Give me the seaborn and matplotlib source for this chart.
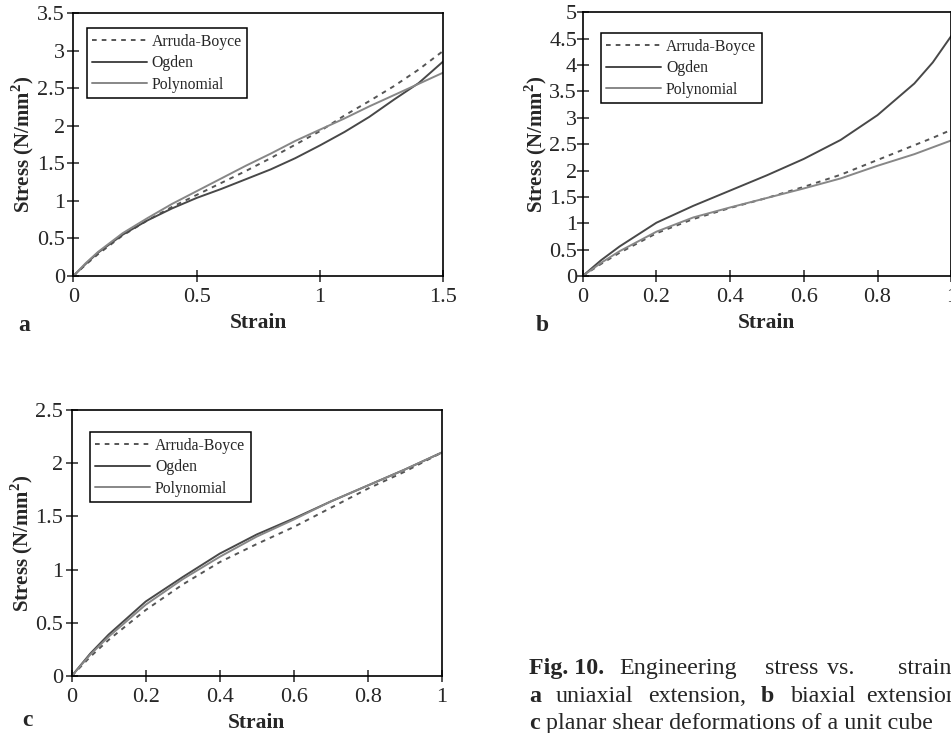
import numpy as np
import pandas as pd
import matplotlib
matplotlib.use("Agg")
import matplotlib.pyplot as plt
import seaborn as sns
from matplotlib.ticker import FuncFormatter, MultipleLocator

# ---------------- data ----------------
models = ["Arruda-Boyce", "Ogden", "Polynomial"]

# a: uniaxial extension
strain_a = [0, 0.05, 0.1, 0.2, 0.3, 0.4, 0.5, 0.6, 0.7, 0.8, 0.9, 1.0, 1.1, 1.2, 1.3, 1.4, 1.5]
ab_a = [0, 0.15, 0.29, 0.54, 0.74, 0.92, 1.08, 1.24, 1.40, 1.57, 1.75, 1.93, 2.14, 2.33, 2.53, 2.75, 3.00]
og_a = [0, 0.16, 0.31, 0.55, 0.74, 0.90, 1.04, 1.16, 1.29, 1.42, 1.57, 1.74, 1.92, 2.12, 2.35, 2.57, 2.86]
po_a = [0, 0.17, 0.32, 0.57, 0.77, 0.96, 1.13, 1.30, 1.47, 1.63, 1.80, 1.95, 2.10, 2.26, 2.41, 2.56, 2.71]

# b: biaxial extension
strain_b = [0, 0.05, 0.1, 0.2, 0.3, 0.4, 0.5, 0.6, 0.7, 0.8, 0.9, 0.95, 1.0]
ab_b = [0, 0.23, 0.44, 0.81, 1.08, 1.29, 1.48, 1.69, 1.92, 2.20, 2.48, 2.62, 2.77]
og_b = [0, 0.30, 0.56, 1.01, 1.33, 1.62, 1.91, 2.22, 2.58, 3.05, 3.65, 4.05, 4.55]
po_b = [0, 0.25, 0.47, 0.84, 1.11, 1.30, 1.48, 1.66, 1.85, 2.09, 2.31, 2.44, 2.57]

# c: planar shear
strain_c = [0, 0.05, 0.1, 0.2, 0.3, 0.4, 0.5, 0.6, 0.7, 0.8, 0.9, 1.0]
ab_c = [0, 0.18, 0.34, 0.62, 0.86, 1.07, 1.24, 1.40, 1.58, 1.76, 1.92, 2.10]
og_c = [0, 0.21, 0.39, 0.70, 0.93, 1.15, 1.33, 1.48, 1.64, 1.79, 1.94, 2.10]
po_c = [0, 0.20, 0.37, 0.67, 0.91, 1.12, 1.31, 1.47, 1.64, 1.79, 1.94, 2.10]

panel_letters = ["a", "b", "c"]
x_label = "Strain"
y_label = "Stress (N/mm$^\\mathbf{2}$)"
caption_lines = [
    [("Fig. 10.", True), ("Engineering", False), ("stress", False), ("vs.", False), ("strain", False)],
    [("a", True), ("uniaxial", False), ("extension,", False), ("b", True), ("biaxial", False), ("extension", False)],
    [("c", True), ("planar shear deformations of a unit cube", False)],
]


def long_df(strain, ab, og, po):
    rows = []
    for name, vals in zip(models, [ab, og, po]):
        for s, v in zip(strain, vals):
            rows.append({"Strain": s, "Stress": v, "model": name})
    return pd.DataFrame(rows)


df_a = long_df(strain_a, ab_a, og_a, po_a)
df_b = long_df(strain_b, ab_b, og_b, po_b)
df_c = long_df(strain_c, ab_c, og_c, po_c)

# ---------------- style ----------------
sns.set_style("ticks")
plt.rcParams["font.family"] = ["Liberation Serif", "DejaVu Serif"]
plt.rcParams["mathtext.fontset"] = "custom"
plt.rcParams["mathtext.rm"] = "Liberation Serif"
plt.rcParams["mathtext.bf"] = "Liberation Serif:bold"
plt.rcParams["axes.edgecolor"] = "black"

palette = {"Arruda-Boyce": "#555555", "Ogden": "#484848", "Polynomial": "#878787"}
dashes = {"Arruda-Boyce": (2.4, 2.6), "Ogden": "", "Polynomial": ""}

W, H = 951, 733
fig = plt.figure(figsize=(W / 100, H / 100), dpi=100)


def px_axes(left, right, top, bottom):
    return fig.add_axes([left / W, 1 - bottom / H, (right - left) / W, (bottom - top) / H])


ax_a = px_axes(73.3, 443.3, 13.3, 276)
ax_b = px_axes(582.7, 951.2, 12.3, 276)
ax_c = px_axes(71.7, 441.7, 410, 676)

fmt = FuncFormatter(lambda v, p: "%g" % round(v, 3))

# axes, frame, x range, x step, y range, legend anchor, y tick pad, y label pad
specs = [
    (ax_a, df_a, (0, 1.5), 0.5, (0, 3.5), (0.036, 0.943), 2, 0.5),
    (ax_b, df_b, (0, 1.0), 0.2, (0, 5.0), (0.049, 0.920), 0, 0.0),
    (ax_c, df_c, (0, 1.0), 0.2, (0, 2.5), (0.049, 0.917), 2, 0.5),
]

for ax, df, xl, xstep, yl, leg_pos, ypad, ylpad in specs:
    sns.lineplot(data=df, x="Strain", y="Stress", hue="model", style="model",
                 palette=palette, dashes=dashes, linewidth=1.4, ax=ax,
                 estimator=None, sort=False)
    ax.set_xlim(*xl)
    ax.set_ylim(*yl)
    ax.xaxis.set_major_locator(MultipleLocator(xstep))
    ax.yaxis.set_major_locator(MultipleLocator(0.5))
    ax.xaxis.set_major_formatter(fmt)
    ax.yaxis.set_major_formatter(fmt)
    for sp in ax.spines.values():
        sp.set_visible(True)
        sp.set_linewidth(1.2)
        sp.set_color("black")
    ax.tick_params(axis="x", direction="inout", length=8, width=1.1, labelsize=16, pad=5)
    ax.tick_params(axis="y", direction="inout", length=8, width=1.1, labelsize=16, pad=ypad)
    ax.set_xlabel(x_label, fontsize=15.5, fontweight="bold", labelpad=4)
    ax.set_ylabel(y_label, fontsize=15, fontweight="bold", labelpad=ylpad)
    handles, labels = ax.get_legend_handles_labels()
    leg = ax.legend(handles, labels, loc="upper left", bbox_to_anchor=leg_pos,
                    borderaxespad=0, fontsize=11.3, frameon=True, fancybox=False,
                    framealpha=1, edgecolor="black", handlelength=3.5,
                    handletextpad=0.3, labelspacing=0.35, borderpad=0.35)
    leg.get_frame().set_linewidth(1.1)
    for line in leg.get_lines():
        line.set_linewidth(1.4)

# panel letters
for letter, (x, y) in zip(panel_letters, [(18, 326), (536, 326), (22, 720)]):
    fig.text(x / W, 1 - y / H, letter, fontsize=17, fontweight="bold", ha="left", va="center")

# caption (justified words)
word_x = [
    [529, 619, 765, 827, 898],
    [529.3, 556, 648, 761, 790.7, 866],
    [529, 546],
]
base_y = [674, 702, 729]
for line, xs, by in zip(caption_lines, word_x, base_y):
    for (word, bold), x in zip(line, xs):
        fig.text(x / W, 1 - by / H, word, fontsize=17.3,
                 fontweight="bold" if bold else "normal", ha="left", va="baseline")

fig.savefig("out.png", dpi=100)
